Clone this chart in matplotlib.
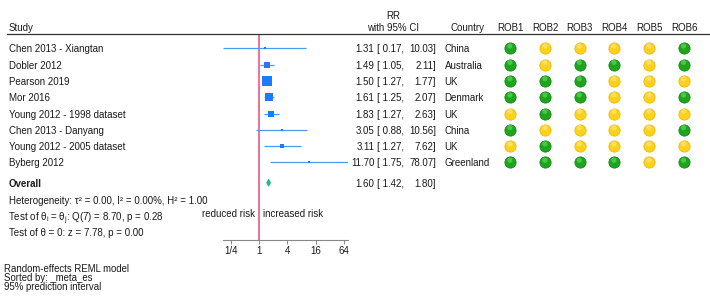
import numpy as np
import matplotlib
matplotlib.use("Agg")
import matplotlib.pyplot as plt
import matplotlib.transforms as mtransforms
from matplotlib.lines import Line2D

plt.rcParams['font.family'] = ['Liberation Sans', 'DejaVu Sans']
plt.rcParams['mathtext.fontset'] = 'custom'
plt.rcParams['mathtext.rm'] = 'Liberation Sans'
plt.rcParams['mathtext.it'] = 'Liberation Sans'

studies = ["Chen 2013 - Xiangtan", "Dobler 2012", "Pearson 2019", "Mor 2016",
           "Young 2012 - 1998 dataset", "Chen 2013 - Danyang",
           "Young 2012 - 2005 dataset", "Byberg 2012"]
rr = [1.31, 1.49, 1.50, 1.61, 1.83, 3.05, 3.11, 11.70]
lo = [0.17, 1.05, 1.27, 1.25, 1.27, 0.88, 1.27, 1.75]
hi = [10.03, 2.11, 1.77, 2.07, 2.63, 10.56, 7.62, 78.07]
weights = [0.8, 13.0, 40.0, 20.0, 12.0, 1.0, 3.5, 0.6]
countries = ["China", "Australia", "UK", "Denmark", "UK", "China", "UK", "Greenland"]
overall = (1.60, 1.42, 1.80)
rob_labels = ["ROB1", "ROB2", "ROB3", "ROB4", "ROB5", "ROB6"]
rob = [
    "GYYYYG",
    "GYGGYG",
    "GGGYYY",
    "GGGYYG",
    "YGYYYY",
    "GYYYYG",
    "YGYYYY",
    "GGGGYG",
]
ticks = [0.25, 1, 4, 16, 64]
tick_labels = ["1/4", "1", "4", "16", "64"]
stats = ["Heterogeneity: τ² = 0.00, I² = 0.00%, H² = 1.00",
         r"Test of θ$_\mathregular{i}$ = θ$_\mathregular{j}$: Q(7) = 8.70, p = 0.28",
         "Test of θ = 0: z = 7.78, p = 0.00"]
footer = ["Random-effects REML model", "Sorted by: _meta_es", "95% prediction interval"]

W, H = 710, 297
fig = plt.figure(figsize=(W / 100, H / 100), dpi=100)
fig.patch.set_facecolor('white')

# forest axes
ax_l, ax_r, ax_t, ax_b = 222.7, 348.3, 34.0, 239.5
ax = fig.add_axes([ax_l / W, 1 - ax_b / H, (ax_r - ax_l) / W, (ax_b - ax_t) / H])
ax.set_xscale('log', base=2)
row_h = 16.3
y0 = 48.3
ymin = (ax_t - y0) / row_h
ymax = (ax_b - y0) / row_h

rows = np.arange(len(studies))
blue = '#1E7BFF'
line_blue = '#4A9BF7'
txt = '#1a1a1a'
fs = 7.0
VA = 'center_baseline'

for i in rows:
    ax.plot([lo[i], hi[i]], [i, i], color=line_blue, lw=0.9, solid_capstyle='butt', zorder=3)
    side_px = max(1.66 * np.sqrt(weights[i]), 2.2)
    ax.plot([rr[i]], [i], marker='s', ms=side_px * 0.72, color=blue, mec=blue, mew=0, zorder=4)

ov_row = 8.25
est, olo, ohi = overall
dh = 0.26
ax.fill([olo, est, ohi, est], [ov_row, ov_row - dh, ov_row, ov_row + dh],
        color='#18BE86', lw=0, zorder=4)

ax.axvline(1, color='#E64A78', lw=1.1, zorder=2)

ax.set_xlim(0.17, 78.07)
ax.set_ylim(ymax, ymin)
for s in ['top', 'right', 'left']:
    ax.spines[s].set_visible(False)
ax.spines['bottom'].set_color('#888888')
ax.spines['bottom'].set_linewidth(0.8)
ax.set_yticks([])
ax.set_xticks(ticks)
ax.set_xticklabels(tick_labels)
ax.xaxis.set_minor_locator(matplotlib.ticker.NullLocator())
ax.tick_params(axis='x', length=3, width=0.7, color='#888888', labelsize=fs,
               labelcolor=txt, pad=1.5)
ax.patch.set_alpha(0)

ax.annotate('reduced risk', xy=(1, 10.1), xytext=(-4, 0), textcoords='offset pixels',
            ha='right', va=VA, fontsize=fs, color=txt)
ax.annotate('increased risk', xy=(1, 10.1), xytext=(4, 0), textcoords='offset pixels',
            ha='left', va=VA, fontsize=fs, color=txt)

blend = mtransforms.blended_transform_factory(fig.transFigure, ax.transData)
def fx(px):
    return px / W

# headers
hdr_row = (27 - y0) / row_h
ax.text(fx(9), hdr_row, "Study", transform=blend, ha='left', va=VA, fontsize=fs, color=txt)
ax.text(fx(393), (15 - y0) / row_h, "RR", transform=blend, ha='center', va=VA, fontsize=fs, color=txt)
ax.text(fx(393), hdr_row, "with 95% CI", transform=blend, ha='center', va=VA, fontsize=fs, color=txt)
ax.text(fx(450), hdr_row, "Country", transform=blend, ha='left', va=VA, fontsize=fs, color=txt)
rob_x = [510.3, 545.3, 579.7, 614.3, 649.3, 684.0]
for x, lab in zip(rob_x, rob_labels):
    ax.text(fx(x), hdr_row, lab, transform=blend, ha='center', va=VA, fontsize=fs, color=txt)

fig.add_artist(Line2D([fx(7), 1.0], [1 - 34 / H, 1 - 34 / H], color='#333333', lw=0.9))

# study rows
for i in rows:
    ax.text(fx(9), i, studies[i], transform=blend, ha='left', va=VA, fontsize=fs, color=txt)
    ax.text(fx(374.5), i, f"{rr[i]:.2f}", transform=blend, ha='right', va=VA, fontsize=fs, color=txt)
    ax.text(fx(377), i, f"[ {lo[i]:.2f},", transform=blend, ha='left', va=VA, fontsize=fs, color=txt)
    ax.text(fx(436), i, f"{hi[i]:.2f}]", transform=blend, ha='right', va=VA, fontsize=fs, color=txt)
    ax.text(fx(444.5), i, countries[i], transform=blend, ha='left', va=VA, fontsize=fs, color=txt)

ax.text(fx(9), ov_row, "Overall", transform=blend, ha='left', va=VA, fontsize=fs,
        color=txt, fontweight='bold')
ax.text(fx(374.5), ov_row, f"{est:.2f}", transform=blend, ha='right', va=VA, fontsize=fs, color=txt)
ax.text(fx(377), ov_row, f"[ {olo:.2f},", transform=blend, ha='left', va=VA, fontsize=fs, color=txt)
ax.text(fx(436), ov_row, f"{ohi:.2f}]", transform=blend, ha='right', va=VA, fontsize=fs, color=txt)

stat_rows = [9.28, 10.27, 11.24]
stat_x = [9, 7.8, 9]
for r, sx, s in zip(stat_rows, stat_x, stats):
    ax.text(fx(sx), r, s, transform=blend, ha='left', va=VA, fontsize=fs, color=txt)

# ROB circles
col = {'G': ('#1EA51E', '#138013'), 'Y': ('#FFD21A', '#E8B400')}
hl = {'G': '#5CD65C', 'Y': '#FFE784'}
hl_tr = blend + mtransforms.ScaledTranslation(-0.3 / 72, 1.6 / 72, fig.dpi_scale_trans)
for i in rows:
    for j, x in enumerate(rob_x):
        c = rob[i][j]
        ax.scatter([fx(x)], [i], s=66, c=col[c][0], edgecolors=col[c][1], linewidths=0.5,
                   transform=blend, clip_on=False, zorder=5)
        ax.scatter([fx(x)], [i], s=14, c=hl[c], edgecolors='none', alpha=0.7,
                   transform=hl_tr, clip_on=False, zorder=6)

ax.set_xlim(0.17, 78.07)
ax.set_ylim(ymax, ymin)

# footer
for k, s in enumerate(footer):
    fig.text(fx(4), 1 - (268 + 9.2 * k) / H, s, ha='left', va=VA, fontsize=6.9, color=txt)

fig.savefig("out.png", dpi=100, facecolor='white')
